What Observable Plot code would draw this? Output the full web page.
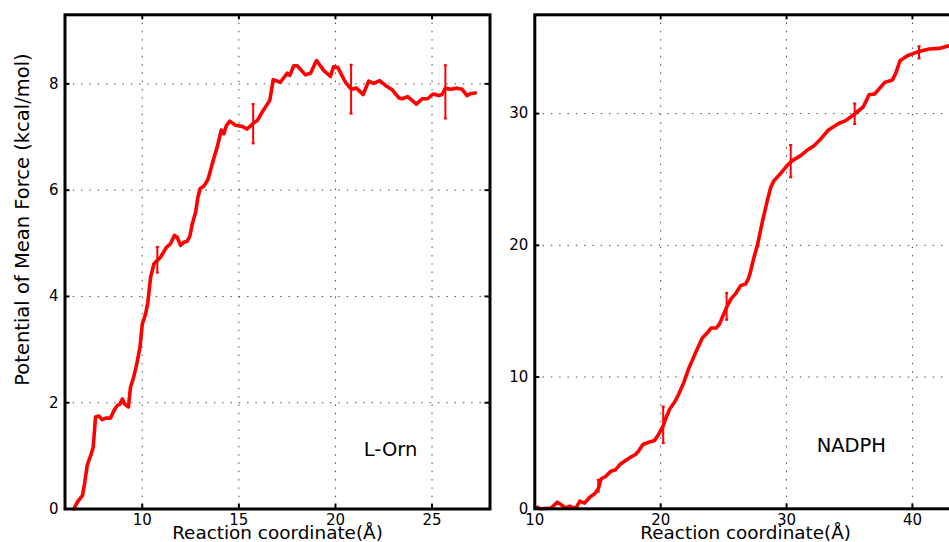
<!DOCTYPE html>
<html>
<head>
<meta charset="utf-8">
<script src="https://cdn.jsdelivr.net/npm/d3@7"></script>
<script src="https://cdn.jsdelivr.net/npm/@observablehq/plot@0.6"></script>
<style>
  html, body { margin: 0; padding: 0; background: #fff; }
  #wrap { position: relative; width: 949px; height: 542px; overflow: hidden; background: #fff; }
  #left, #right { position: absolute; top: 0; width: 500px; height: 542px; }
  #left { left: 0; }
  #right { left: 480px; }
  #wrap svg { max-width: none !important; background: transparent !important; }
</style>
</head>
<body>
<div id="wrap"><div id="left"></div><div id="right"></div></div>
<script>
// ---------- data: L-Orn panel ----------
const lornX = [6.46,6.64,6.9,7.01,7.15,7.36,7.46,7.58,7.75,7.93,8.1,8.36,8.53,8.71,8.84,8.97,9.08,9.28,9.39,9.53,9.7,9.88,10.0,10.17,10.29,10.43,10.6,10.78,10.95,11.26,11.46,11.67,11.81,11.98,12.15,12.33,12.46,12.59,12.76,12.88,13.0,13.2,13.4,13.67,13.88,14.09,14.22,14.36,14.53,14.83,15.17,15.43,15.74,15.95,16.21,16.6,16.78,17.15,17.5,17.64,17.84,18.02,18.45,18.71,19.02,19.4,19.74,19.9,20.12,20.29,20.52,20.81,21.09,21.43,21.72,21.98,22.29,22.67,22.93,23.27,23.45,23.74,24.19,24.49,24.77,25.05,25.34,25.52,25.69,25.95,26.3,26.55,26.81,27.02,27.24];
const lornY = [0.0,0.13,0.25,0.47,0.82,1.04,1.16,1.73,1.75,1.68,1.71,1.71,1.85,1.95,1.97,2.07,1.98,1.92,2.29,2.45,2.7,3.04,3.48,3.67,3.89,4.36,4.61,4.68,4.74,4.93,4.99,5.15,5.11,4.96,5.02,5.04,5.13,5.37,5.58,5.87,6.03,6.08,6.2,6.56,6.81,7.13,7.06,7.22,7.30,7.22,7.20,7.15,7.26,7.31,7.47,7.69,8.08,8.03,8.2,8.16,8.34,8.34,8.17,8.2,8.44,8.25,8.14,8.32,8.31,8.19,8.03,7.9,7.92,7.80,8.05,8.01,8.06,7.95,7.89,7.74,7.72,7.76,7.62,7.72,7.72,7.81,7.78,7.80,7.92,7.9,7.92,7.9,7.78,7.82,7.83];
const lornErrX = [10.78, 15.74, 20.81, 25.69];
const lornErrY = [4.69, 7.25, 7.9, 7.85];
const lornErr  = [0.24, 0.37, 0.46, 0.5];
const lornXTicks = [10, 15, 20, 25];
const lornYTicks = [0, 2, 4, 6, 8];
const lornLabel = ["L-Orn"];
const lornLabelAt = [21.47, 1.12];

// ---------- data: NADPH panel ----------
const nadphX = [10.05,10.19,10.45,11.3,11.78,12.18,12.44,12.78,13.1,13.31,13.58,13.95,14.37,14.75,15.04,15.28,15.62,16.02,16.41,16.76,17.21,17.61,18.0,18.27,18.59,19.06,19.51,19.78,20.21,20.39,20.73,21.1,21.45,21.84,22.24,22.85,23.31,23.65,24.0,24.4,24.68,24.9,25.24,25.56,25.95,26.35,26.75,26.96,27.09,27.28,27.41,27.68,27.9,28.16,28.47,28.74,29.0,29.53,30.11,30.46,31.12,31.6,32.18,32.71,33.3,34.1,34.7,35.41,36.1,36.55,37.0,37.8,38.41,38.67,39.01,39.6,40.52,41.32,42.11,42.91,43.5];
const nadphY = [0.1,0.12,0.0,0.05,0.5,0.25,0.05,0.2,0.05,0.12,0.58,0.43,0.88,1.14,1.52,2.28,2.45,2.83,2.96,3.36,3.66,3.92,4.12,4.42,4.88,5.05,5.18,5.56,6.32,6.83,7.59,8.09,8.73,9.6,10.68,12.01,12.97,13.3,13.72,13.72,14.04,14.54,15.3,15.9,16.33,16.94,17.07,17.45,17.83,18.59,19.09,19.98,21.0,22.12,23.39,24.4,24.91,25.46,26.12,26.43,26.81,27.19,27.56,28.07,28.73,29.23,29.47,29.97,30.52,31.43,31.49,32.37,32.55,33.05,34.01,34.39,34.72,34.9,34.95,35.15,35.3];
const nadphErrX = [15.04, 20.2, 25.24, 30.33, 35.41, 40.52];
const nadphErrY = [1.75, 6.37, 15.37, 26.39, 29.99, 34.65];
const nadphErr  = [0.45, 1.39, 1.02, 1.23, 0.78, 0.46];
const nadphXTicks = [10, 20, 30, 40];
const nadphYTicks = [0, 10, 20, 30];
const nadphLabel = ["NADPH"];
const nadphLabelAt = [32.39, 4.76];

const yTitle = "Potential of Mean Force (kcal/mol)";
const xTitle = "Reaction coordinate(Å)";

// ---------- drawing ----------
const RED = "#ff0000";
const capSymbol = { draw(ctx, size) { const w = Math.sqrt(size) / 2; ctx.moveTo(-w, 0); ctx.lineTo(w, 0); } };

function panel({xs, ys, ex, ey, ee, xTicks, yTicks, xDomain, yDomain, label, labelAt,
                width, height, mL, mR, mT, mB, withYTitle}) {
  const innerH = height - mT - mB;
  const innerW = width - mL - mR;
  const line = xs.map((x, i) => ({x, y: ys[i]}));
  const bars = ex.map((x, i) => ({x, y: ey[i], lo: ey[i] - ee[i], hi: ey[i] + ee[i]}));
  const caps = bars.flatMap(d => [{x: d.x, y: d.lo}, {x: d.x, y: d.hi}]);
  const tickLen = 5;
  const fmt = d => String(d);
  const marks = [
    Plot.gridX(xTicks, {stroke: "#222", strokeOpacity: 0.85, strokeWidth: 1, strokeDasharray: "1.4,6.9"}),
    Plot.gridY(yTicks, {stroke: "#222", strokeOpacity: 0.85, strokeWidth: 1, strokeDasharray: "1.4,6.9"}),
    Plot.line(line, {x: "x", y: "y", stroke: RED, strokeWidth: 3.6, strokeLinejoin: "round", strokeLinecap: "round"}),
    Plot.ruleX(bars, {x: "x", y1: "lo", y2: "hi", stroke: RED, strokeWidth: 2}),
    Plot.dot(caps, {x: "x", y: "y", symbol: capSymbol, r: 1.7, fill: "none", stroke: RED, strokeWidth: 2}),
    Plot.text(label, {x: () => labelAt[0], y: () => labelAt[1], text: d => d, textAnchor: "start", lineAnchor: "middle", fontSize: 19.5, fill: "#000"}),
    // inward ticks on all four sides
    Plot.tickX(xTicks, {x: d => d, insetTop: innerH - tickLen, stroke: "#000", strokeWidth: 2}),
    Plot.tickX(xTicks, {x: d => d, insetBottom: innerH - tickLen, stroke: "#000", strokeWidth: 2}),
    Plot.tickY(yTicks, {y: d => d, insetRight: innerW - tickLen, stroke: "#000", strokeWidth: 2}),
    Plot.tickY(yTicks, {y: d => d, insetLeft: innerW - tickLen, stroke: "#000", strokeWidth: 2}),
    Plot.axisX(xTicks, {tickSize: 0, tickPadding: 5.5, fontSize: 15, label: null, tickFormat: fmt}),
    Plot.axisY(yTicks, {tickSize: 0, tickPadding: 6.5, fontSize: 15, label: null, tickFormat: fmt}),
    Plot.text([xTitle], {frameAnchor: "bottom", dy: 24, textAnchor: "middle", lineAnchor: "middle", fontSize: 18.4, fill: "#000"}),
    Plot.frame({stroke: "#000", strokeWidth: 3})
  ];
  if (withYTitle) {
    marks.push(Plot.text([yTitle], {frameAnchor: "left", dx: -42.5, dy: -42.4, rotate: -90, textAnchor: "middle", lineAnchor: "middle", fontSize: 19.5, fill: "#000"}));
  }
  return Plot.plot({
    width, height,
    marginLeft: mL, marginRight: mR, marginTop: mT, marginBottom: mB,
    x: {domain: xDomain, axis: null},
    y: {domain: yDomain, axis: null},
    style: {fontFamily: "'DejaVu Sans', sans-serif", color: "#000", background: "transparent", overflow: "visible", maxWidth: "none"},
    marks
  });
}

document.getElementById("left").append(panel({
  xs: lornX, ys: lornY, ex: lornErrX, ey: lornErrY, ee: lornErr,
  xTicks: lornXTicks, yTicks: lornYTicks, xDomain: [6, 28], yDomain: [0, 9.3],
  label: lornLabel, labelAt: lornLabelAt,
  width: 500, height: 542, mL: 64.5, mR: 10.5, mT: 14.3, mB: 33.5, withYTitle: true
}));

document.getElementById("right").append(panel({
  xs: nadphX, ys: nadphY, ex: nadphErrX, ey: nadphErrY, ee: nadphErr,
  xTicks: nadphXTicks, yTicks: nadphYTicks, xDomain: [10, 43.5], yDomain: [0, 37.5],
  label: nadphLabel, labelAt: nadphLabelAt,
  width: 500, height: 542, mL: 54.3, mR: 24, mT: 14.3, mB: 33.7, withYTitle: false
}));
</script>
</body>
</html>
